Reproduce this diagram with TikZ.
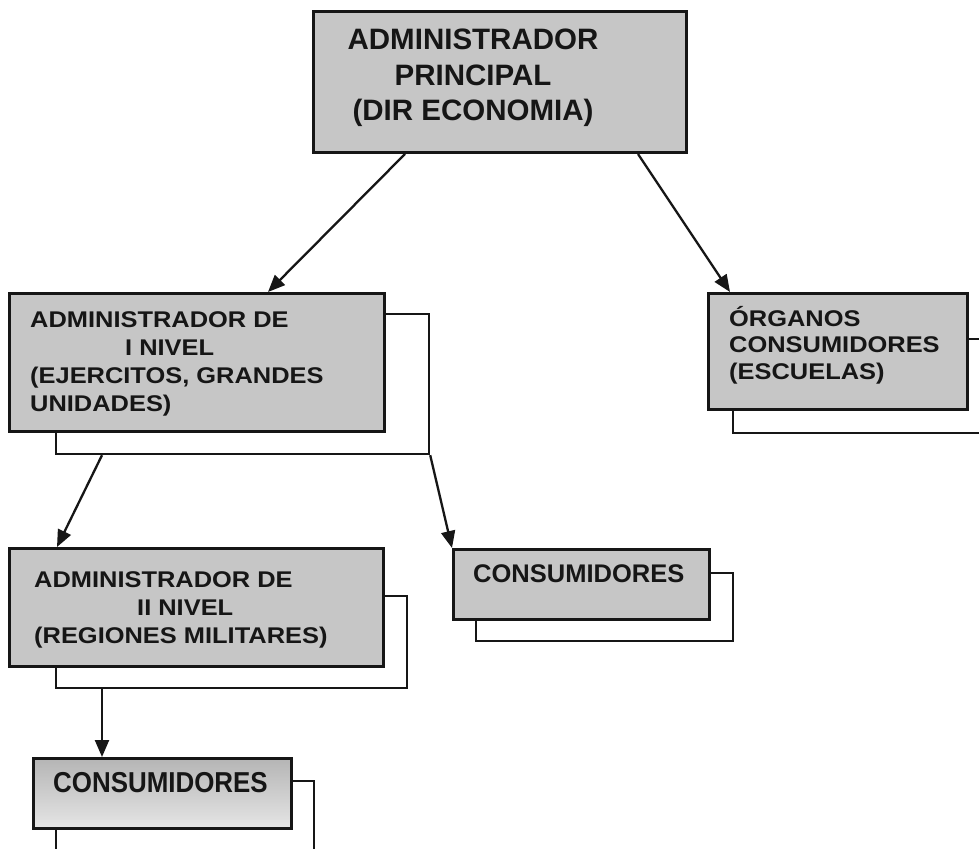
\documentclass[tikz,border=0pt]{standalone}
\usepackage{fontspec}
\setmainfont{Liberation Sans}
% flattened and tall variants of the bold face used in the boxes
\newfontfamily\flatbold[FakeStretch=1.12]{Liberation Sans}
\newfontfamily\tallbold[FakeStretch=0.9]{Liberation Sans}
\usetikzlibrary{arrows.meta}
\definecolor{boxgray}{RGB}{198,198,198}
\definecolor{ink}{RGB}{22,22,22}
\begin{document}
\begin{tikzpicture}[x=1pt,y=-1pt,
  unitbox/.style={draw=ink, line width=3pt, fill=boxgray, anchor=north west,
                  inner sep=0pt},
  backbox/.style={draw=ink, line width=2.2pt, anchor=north west, inner sep=0pt},
  conn/.style={draw=ink, line width=2.3pt, -{Triangle[length=17pt,width=14pt]}},
  bigtext/.style={anchor=north, align=center, inner sep=0pt, text=ink,
                  font=\bfseries\fontsize{29.5}{35.5}\selectfont},
  flattext/.style={anchor=north west, align=left, inner sep=0pt, text=ink,
                   font=\flatbold\bfseries\fontsize{22.7}{#1}\selectfont},
  flattext/.default=28
]
\clip (0,0) rectangle (979,848);
\fill[white] (0,0) rectangle (979,848);

% offset outlines behind the boxes
\node[backbox, minimum width=373pt, minimum height=140pt] (s2) at (55,313) {};
\node[backbox, minimum width=258pt, minimum height=94pt]  (s3) at (732,338) {};
\node[backbox, minimum width=351pt, minimum height=92pt]  (s4) at (55,595) {};
\node[backbox, minimum width=257pt, minimum height=68pt]  (s5) at (475,572) {};
\node[backbox, minimum width=258pt, minimum height=80pt]  (s6) at (55,780) {};

% the boxes
\node[unitbox, minimum width=373pt, minimum height=141pt] (b1) at (312,10) {};
\node[unitbox, minimum width=375pt, minimum height=138pt] (b2) at (8,292) {};
\node[unitbox, minimum width=259pt, minimum height=116pt] (b3) at (707,292) {};
\node[unitbox, minimum width=374pt, minimum height=118pt] (b4) at (8,547) {};
\node[unitbox, minimum width=256pt, minimum height=70pt]  (b5) at (452,548) {};
\node[unitbox, minimum width=258pt, minimum height=70pt, fill=none,
      top color=gray!58, bottom color=gray!20] (b6) at (32,757) {};

% labels
\node[bigtext] (t1) at (473,29) {ADMINISTRADOR\\PRINCIPAL\\(DIR ECONOMIA)};
\node[flattext] (t2) at (30,311)
  {ADMINISTRADOR DE\\\hspace*{95pt}I NIVEL\\(EJERCITOS, GRANDES\\UNIDADES)};
\node[flattext=26.5] (t3) at (729,306) {ÓRGANOS\\CONSUMIDORES\\(ESCUELAS)};
\node[flattext] (t4) at (34,571)
  {ADMINISTRADOR DE\\\hspace*{103pt}II NIVEL\\(REGIONES MILITARES)};
\node[anchor=north west, inner sep=0pt, text=ink,
      font=\bfseries\fontsize{25.5}{30}\selectfont] (t5) at (473,564) {CONSUMIDORES};
\node[anchor=north west, inner sep=0pt, text=ink,
      font=\tallbold\bfseries\fontsize{28.8}{34}\selectfont] (t6) at (53,772) {CONSUMIDORES};

% connectors
\draw[conn] ([xshift=93pt]b1.south west) -- ([xshift=260pt]b2.north west);
\draw[conn] ([xshift=326pt]b1.south west) -- ([xshift=23pt]b3.north west);
\draw[conn] ([xshift=47pt]s2.south west) -- ([xshift=49pt]b4.north west);
\draw[conn] (s2.south east) -- (b5.north west);
\draw[conn] ([xshift=47pt]s4.south west) -- ([xshift=70pt]b6.north west);
\end{tikzpicture}
\end{document}
